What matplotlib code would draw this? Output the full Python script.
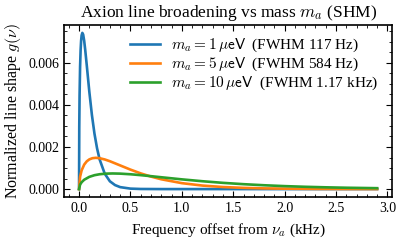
import matplotlib
matplotlib.use("Agg")
import matplotlib.pyplot as plt
from matplotlib.ticker import MultipleLocator

plt.rcParams["font.family"] = "serif"
plt.rcParams["font.serif"] = ["Liberation Serif", "DejaVu Serif"]
plt.rcParams["mathtext.fontset"] = "cm"

# frequency offset (kHz) and normalized line shape (1/Hz)
x_1uev = [0.0, 0.002, 0.005, 0.010, 0.015, 0.020, 0.025, 0.032, 0.040, 0.050,
          0.060, 0.075, 0.100, 0.125, 0.150, 0.175, 0.200, 0.250, 0.300,
          0.350, 0.400, 0.500, 0.600, 0.800, 1.0, 1.5, 2.0, 2.5, 2.9]
g_1uev = [0.0, 2.94e-3, 4.44e-3, 5.81e-3, 6.59e-3, 7.05e-3, 7.30e-3, 7.42e-3,
          7.34e-3, 7.04e-3, 6.61e-3, 5.88e-3, 4.62e-3, 3.52e-3, 2.63e-3,
          1.94e-3, 1.41e-3, 7.3e-4, 3.7e-4, 1.9e-4, 9.3e-5, 2.2e-5, 5e-6,
          0.0, 0.0, 0.0, 0.0, 0.0, 0.0]

x_5uev = [0.0, 0.010, 0.025, 0.050, 0.075, 0.100, 0.130, 0.163, 0.200, 0.250,
          0.300, 0.400, 0.500, 0.600, 0.700, 0.800, 1.0, 1.2, 1.4, 1.6, 1.8,
          2.0, 2.3, 2.6, 2.9]
g_5uev = [0.0, 5.88e-4, 8.88e-4, 1.163e-3, 1.319e-3, 1.411e-3, 1.467e-3,
          1.485e-3, 1.468e-3, 1.407e-3, 1.323e-3, 1.124e-3, 9.25e-4, 7.46e-4,
          5.93e-4, 4.66e-4, 2.82e-4, 1.67e-4, 9.8e-5, 5.7e-5, 3.3e-5, 1.9e-5,
          8e-6, 3e-6, 1.4e-6]

x_10uev = [0.0, 0.010, 0.025, 0.050, 0.100, 0.150, 0.200, 0.260, 0.326, 0.400,
           0.500, 0.600, 0.700, 0.800, 1.0, 1.2, 1.4, 1.6, 1.8, 2.0, 2.2, 2.4,
           2.6, 2.9]
g_10uev = [0.0, 2.11e-4, 3.26e-4, 4.44e-4, 5.81e-4, 6.60e-4, 7.05e-4, 7.33e-4,
           7.42e-4, 7.34e-4, 7.04e-4, 6.62e-4, 6.13e-4, 5.62e-4, 4.62e-4,
           3.73e-4, 2.96e-4, 2.33e-4, 1.82e-4, 1.41e-4, 1.09e-4, 8.4e-5,
           6.4e-5, 4.3e-5]

labels = [r"$m_a = 1\,\mu\mathsf{eV}$  (FWHM 117 Hz)",
          r"$m_a = 5\,\mu\mathsf{eV}$  (FWHM 584 Hz)",
          r"$m_a = 10\,\mu\mathsf{eV}$  (FWHM 1.17 kHz)"]

fig = plt.figure(figsize=(3.96, 2.41), dpi=100)
ax = fig.add_axes([0.162, 0.183, 0.828, 0.713])

ax.plot(x_1uev, g_1uev, lw=1.9, color="#1f77b4", label=labels[0])
ax.plot(x_5uev, g_5uev, lw=1.9, color="#ff7f0e", label=labels[1])
ax.plot(x_10uev, g_10uev, lw=1.9, color="#2ca02c", label=labels[2])

ax.set_title(r"Axion line broadening vs mass $m_a$ (SHM)", fontsize=12.5)
ax.set_xlabel(r"Frequency offset from $\nu_a$ (kHz)", fontsize=11, labelpad=5)
ax.set_ylabel(r"Normalized line shape $g(\nu)$", fontsize=11.5)

ax.xaxis.set_major_locator(MultipleLocator(0.5))
ax.xaxis.set_minor_locator(MultipleLocator(0.1))
ax.yaxis.set_major_locator(MultipleLocator(0.002))
ax.yaxis.set_minor_locator(MultipleLocator(0.0005))
ax.tick_params(which="both", direction="in", top=True, right=True, labelsize=10)
ax.tick_params(which="major", length=4)
ax.tick_params(which="minor", length=2)
for s in ax.spines.values():
    s.set_linewidth(1.2)

ax.legend(loc="upper right", bbox_to_anchor=(1.0, 1.01), frameon=False,
          fontsize=11, labelspacing=0.1, handlelength=2.0, handletextpad=0.7)

fig.savefig("out.png", dpi=100)
